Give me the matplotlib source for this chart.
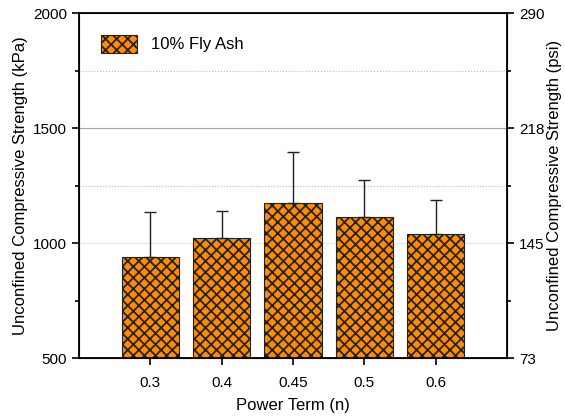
import matplotlib
matplotlib.use('Agg')
import matplotlib.pyplot as plt
import numpy as np

plt.rcParams['font.family'] = ['Liberation Sans', 'DejaVu Sans']
plt.rcParams['hatch.linewidth'] = 1.3

# Datos
categorias = ['0.3', '0.4', '0.45', '0.5', '0.6']
ucs = [940, 1020, 1175, 1112, 1040]
error = [195, 120, 222, 163, 148]
psi_labels = ['73', '145', '218', '290']

fig = plt.figure(figsize=(5.65, 4.17), dpi=100)
ax = fig.add_axes([79/565, 1 - 358/417, 428/565, 345/417])

x = np.arange(len(categorias))
ax.bar(x, ucs, width=0.8, color='#FF8C00', edgecolor='#222222', linewidth=0.8,
       hatch='xxx', label='10% Fly Ash', zorder=2)
ax.errorbar(x, ucs, yerr=[np.zeros(len(error)), error], fmt='none',
            ecolor='#222222', elinewidth=1, capsize=4, capthick=1, zorder=3)

ax.set_xlim(-1, 5)
ax.set_ylim(500, 2000)
ax.set_xticks(x)
ax.set_xticklabels(categorias)
ax.set_yticks([500, 1000, 1500, 2000])
ax.set_yticks([750, 1250, 1750], minor=True)

# Lineas de cuadricula
ax.axhline(1500, color='#aaaaaa', lw=0.8, zorder=0)
for yv in [1250, 1750]:
    ax.axhline(yv, color='#bbbbbb', lw=0.8, ls=':', zorder=0)
ax.axhline(1000, color='#f0e0ea', lw=0.8, zorder=0)

ax.tick_params(axis='both', direction='out', labelsize=11, length=5, width=1.2)
ax.tick_params(axis='x', pad=8)
ax.tick_params(axis='y', which='minor', direction='out', length=3, width=1.2)
for s in ax.spines.values():
    s.set_linewidth(1.3)

ax.set_xlabel('Power Term (n)', fontsize=12, labelpad=6)
ax.set_ylabel('Unconfined Compressive Strength (kPa)', fontsize=12)

# Eje derecho en psi
ax2 = ax.twinx()
ax2.set_ylim(500, 2000)
ax2.set_yticks([500, 1000, 1500, 2000])
ax2.set_yticklabels(psi_labels)
ax2.set_yticks([750, 1250, 1750], minor=True)
ax2.tick_params(axis='y', direction='out', labelsize=11, length=5, width=1.2)
ax2.tick_params(axis='y', which='minor', direction='out', length=3, width=1.2)
ax2.set_ylabel('Unconfined Compressive Strength (psi)', fontsize=12, labelpad=2)

ax.legend(loc='upper left', frameon=False, fontsize=12, handlelength=2.2,
          handleheight=1.3, borderaxespad=0.9)

fig.savefig('out.png', dpi=100)
